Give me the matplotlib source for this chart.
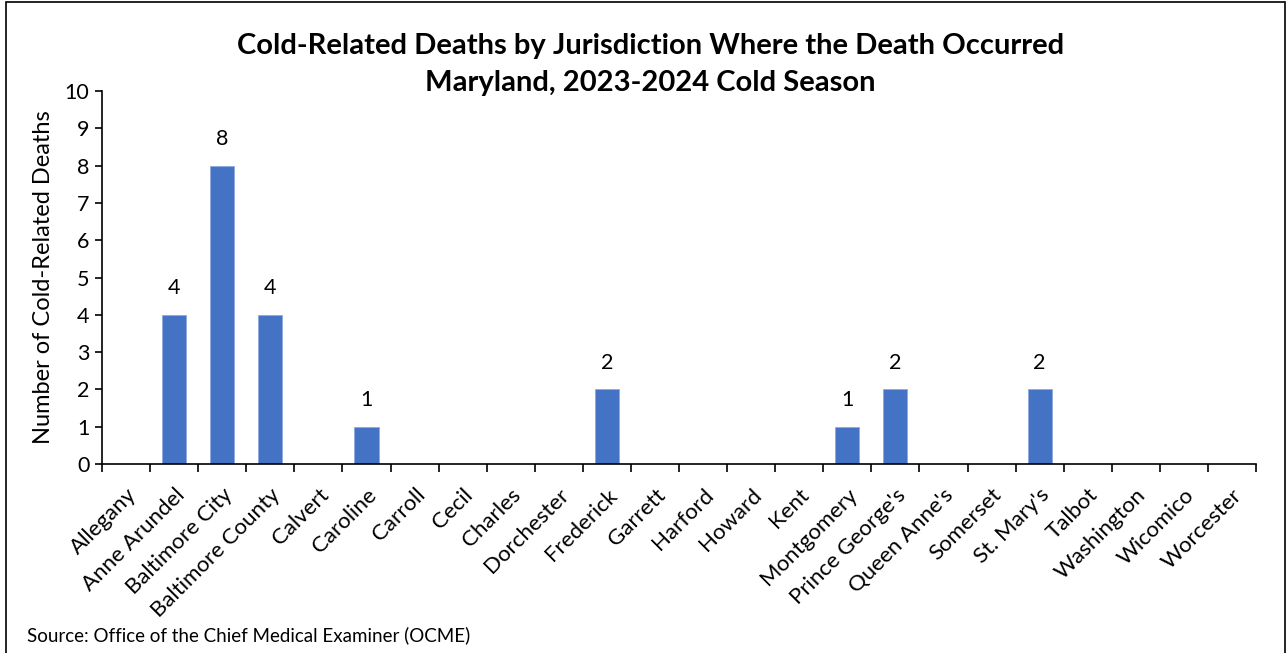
import matplotlib
matplotlib.use('Agg')
import matplotlib.pyplot as plt
import numpy as np
from matplotlib.patches import Rectangle

plt.rcParams['font.family'] = ['Lato', 'DejaVu Sans']

jurisdictions = ['Allegany', 'Anne Arundel', 'Baltimore City', 'Baltimore County', 'Calvert',
                 'Caroline', 'Carroll', 'Cecil', 'Charles', 'Dorchester', 'Frederick', 'Garrett',
                 'Harford', 'Howard', 'Kent', 'Montgomery', "Prince George's", "Queen Anne's",
                 'Somerset', "St. Mary's", 'Talbot', 'Washington', 'Wicomico', 'Worcester']
deaths = [0, 4, 8, 4, 0, 1, 0, 0, 0, 0, 2, 0, 0, 0, 0, 1, 2, 0, 0, 2, 0, 0, 0, 0]

fig = plt.figure(figsize=(12.88, 6.53), dpi=100)
ax = fig.add_axes([0.0792, 0.2894, 0.8960, 0.5712])

x = np.arange(len(jurisdictions))
ax.bar(x, deaths, width=0.5, color='#4472C4', edgecolor='#8FAADC', linewidth=0.6, zorder=2)

# data labels above non-zero bars
for xi, v in zip(x, deaths):
    if v > 0:
        ax.annotate(str(v), xy=(xi, v), xytext=(0, 19), textcoords='offset points',
                    ha='center', va='center', fontsize=15.5)

ax.set_xlim(-0.5, len(jurisdictions) - 0.5)
ax.set_ylim(0, 10)
ax.set_yticks(range(0, 11))
ax.tick_params(axis='y', labelsize=15.5, length=5, width=1.2, direction='out', pad=4)

ax.set_xticks(x)
ax.set_xticklabels(jurisdictions, rotation=45, ha='right', rotation_mode='anchor', fontsize=16)
ax.tick_params(axis='x', which='major', length=0, pad=15)
ax.set_xticks(np.arange(-0.5, len(jurisdictions)), minor=True)
ax.tick_params(axis='x', which='minor', length=6, width=1.2, direction='out')

for s in ['top', 'right']:
    ax.spines[s].set_visible(False)
for s in ['left', 'bottom']:
    ax.spines[s].set_linewidth(1.2)

ax.set_ylabel('Number of Cold-Related Deaths', fontsize=17, labelpad=8)

fig.text(0.505, 0.93, 'Cold-Related Deaths by Jurisdiction Where the Death Occurred',
         ha='center', va='center', fontsize=21, fontweight='bold')
fig.text(0.505, 0.873, 'Maryland, 2023-2024 Cold Season',
         ha='center', va='center', fontsize=21, fontweight='bold')
fig.text(0.021, 0.027, 'Source: Office of the Chief Medical Examiner (OCME)',
         ha='left', va='center', fontsize=13.5)

fig.patches.append(Rectangle((0.005, -0.01), 0.993, 1.007, transform=fig.transFigure,
                             fill=False, edgecolor='black', linewidth=1.2))

plt.savefig('out.png', dpi=100, facecolor='white')
